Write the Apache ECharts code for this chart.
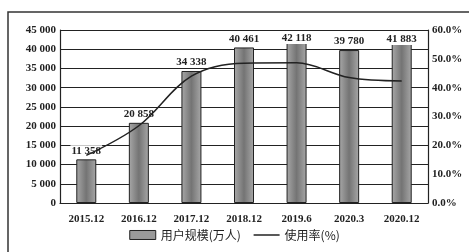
<!DOCTYPE html>
<html>
<head>
<meta charset="utf-8">
<script src="https://cdn.jsdelivr.net/npm/echarts@6/dist/echarts.min.js"></script>
<style>
  html, body { margin: 0; padding: 0; background: #fff; }
  #chart { width: 469px; height: 252px; }
</style>
</head>
<body>
<div id="chart"></div>
<script>
// 数据
var categories = ['2015.12', '2016.12', '2017.12', '2018.12', '2019.6', '2020.3', '2020.12']
var userScale = [11358, 20858, 34338, 40461, 42118, 39780, 41883]
var usageRate = [16.5, 26.8, 44.0, 48.5, 48.6, 43.5, 42.3]
var leftTicks = [0, 45000, 5000]
var rightTicks = [0, 60, 10]

var serif = '"Liberation Serif", "DejaVu Serif", "Noto Sans CJK SC", serif'

function fmtThousands (v) {
  var s = String(v)
  return s.length > 3 ? s.slice(0, s.length - 3) + ' ' + s.slice(-3) : s
}

var chart = echarts.init(document.getElementById('chart'))

// 顶部两个标签往下挪一点，贴着 45 000 的线下面
var barData = userScale.map(function (v) {
  if (v > 41000) return { value: v, label: { offset: [0, 6] } }
  return v
})

var option = {
  animation: false,
  backgroundColor: '#fff',
  textStyle: { fontFamily: serif },
  graphic: [
    {
      type: 'rect',
      shape: { x: 8, y: 12, width: 470, height: 260 },
      style: { fill: 'none', stroke: '#333', lineWidth: 1.5 },
      silent: true
    }
  ],
  grid: { left: 60, right: 41, top: 30, bottom: 49, containLabel: false },
  legend: {
    bottom: 6,
    left: 'center',
    itemGap: 12,
    itemWidth: 26,
    itemHeight: 9,
    textStyle: { fontFamily: '"Noto Sans CJK SC", sans-serif', fontSize: 12, color: '#222' },
    data: [
      { name: '用户规模(万人)', icon: 'rect', itemStyle: { color: '#9a9a9a', borderColor: '#222', borderWidth: 1 } },
      { name: '使用率(%)', itemStyle: { opacity: 0 }, lineStyle: { color: '#222', width: 1.5 } }
    ]
  },
  xAxis: {
    type: 'category',
    data: categories,
    axisLine: { lineStyle: { color: '#222', width: 1.2 } },
    axisTick: { show: false },
    axisLabel: { color: '#222', fontSize: 11, fontWeight: 'bold', fontFamily: serif, margin: 11 }
  },
  yAxis: [
    {
      type: 'value',
      min: leftTicks[0],
      max: leftTicks[1],
      interval: leftTicks[2],
      axisLine: { show: true, lineStyle: { color: '#222', width: 1.2 } },
      axisTick: { show: false },
      splitLine: { lineStyle: { color: '#222', width: 1 } },
      axisLabel: {
        color: '#222', fontSize: 11, fontWeight: 'bold', fontFamily: serif, margin: 4,
        formatter: fmtThousands
      }
    },
    {
      type: 'value',
      min: rightTicks[0],
      max: rightTicks[1],
      interval: rightTicks[2],
      position: 'right',
      axisLine: { show: true, lineStyle: { color: '#222', width: 1.2 } },
      axisTick: { show: false },
      splitLine: { show: false },
      axisLabel: {
        color: '#222', fontSize: 11, fontWeight: 'bold', fontFamily: serif, margin: 4,
        formatter: function (v) { return v.toFixed(1) + '%' }
      }
    }
  ],
  series: [
    {
      name: '用户规模(万人)',
      type: 'bar',
      data: barData,
      barWidth: 20,
      itemStyle: {
        color: new echarts.graphic.LinearGradient(0, 0, 1, 0, [
          { offset: 0, color: '#a8a8a8' },
          { offset: 0.5, color: '#747474' },
          { offset: 1, color: '#a8a8a8' }
        ]),
        borderColor: '#222',
        borderWidth: 1
      },
      label: {
        show: true,
        position: 'top',
        distance: 3,
        color: '#222',
        fontSize: 11,
        fontWeight: 'bold',
        fontFamily: serif,
        backgroundColor: '#fff',
        padding: [0, 1],
        formatter: function (p) { return fmtThousands(p.value) }
      },
      z: 2
    },
    {
      name: '使用率(%)',
      type: 'line',
      yAxisIndex: 1,
      data: usageRate,
      smooth: 0.35,
      symbol: 'none',
      lineStyle: { color: '#222', width: 1.5 },
      itemStyle: { color: '#222' },
      z: 3
    }
  ]
}

chart.setOption(option)
</script>
</body>
</html>
